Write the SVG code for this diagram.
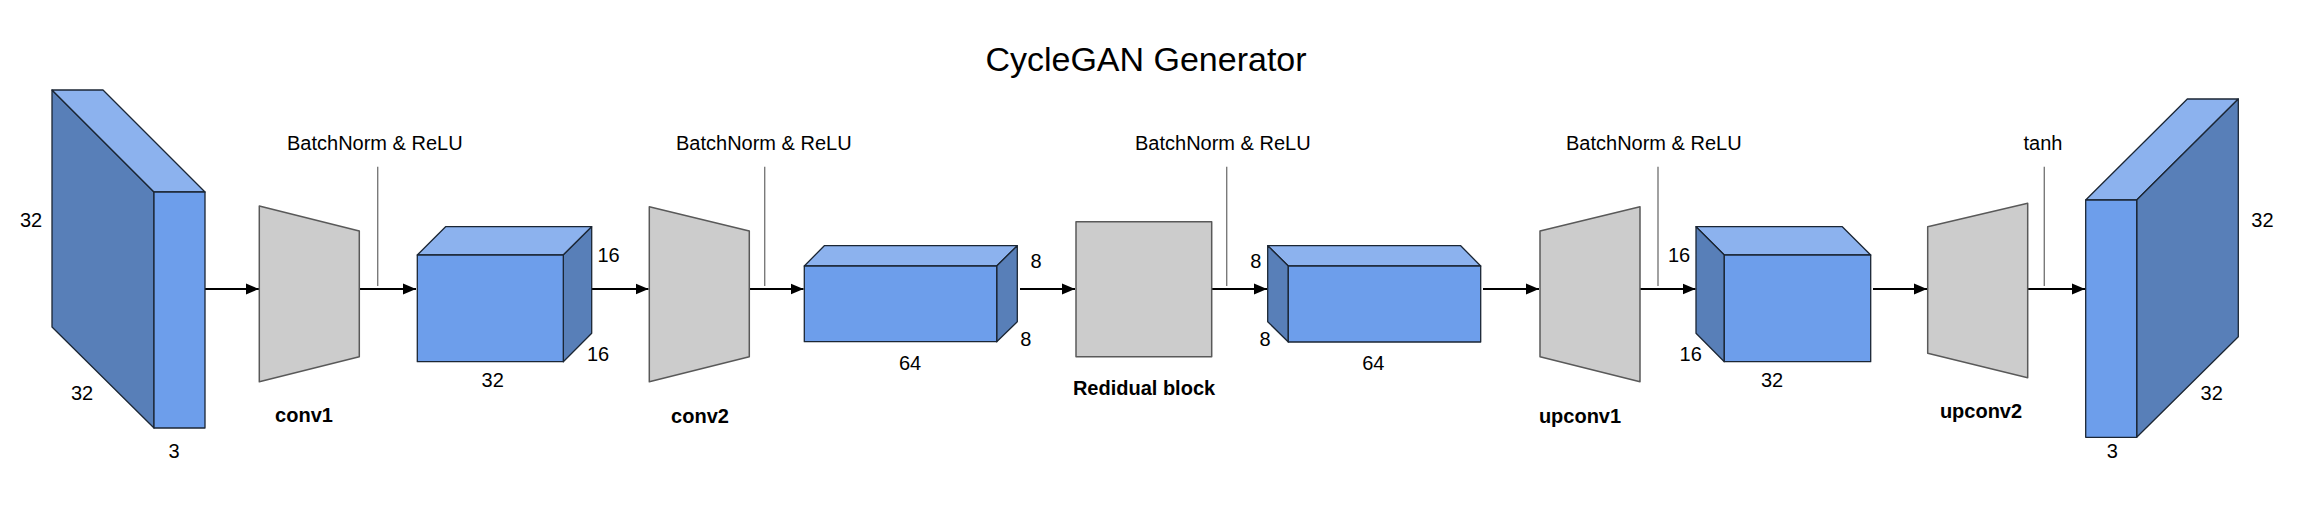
<svg xmlns="http://www.w3.org/2000/svg" width="2308" height="520" viewBox="0 0 2308 520">
<defs>
<marker id="ah" markerUnits="userSpaceOnUse" markerWidth="14" markerHeight="12" refX="13" refY="6" orient="auto">
<path d="M0,0.5 L13,6 L0,11.5 Z" fill="#000"/>
</marker>
<style>
text{font-family:"Liberation Sans",Arial,sans-serif;font-size:20px;fill:#000}
.t{font-size:34px}
.b{font-weight:bold}
.m{text-anchor:middle}
.front{fill:#6d9eeb;stroke:#1b2634;stroke-width:1.3;stroke-linejoin:round}
.top{fill:#8cb2ee;stroke:#1b2634;stroke-width:1.3;stroke-linejoin:round}
.side{fill:#587fb8;stroke:#1b2634;stroke-width:1.3;stroke-linejoin:round}
.op{fill:#cccccc;stroke:#595959;stroke-width:1.5;stroke-linejoin:round}
.arr{stroke:#000;stroke-width:2.2;fill:none;marker-end:url(#ah)}
.tick{stroke:#7a7a7a;stroke-width:1.4}
</style>
</defs>
<rect width="2308" height="520" fill="#fff"/>
<text class="t m" x="1146" y="70.7">CycleGAN Generator</text>

<g id="connectors">
<line class="arr" x1="205" y1="289" x2="259" y2="289"/>
<line class="arr" x1="359.3" y1="289" x2="416" y2="289"/>
<line class="arr" x1="592" y1="289" x2="648.5" y2="289"/>
<line class="arr" x1="749.3" y1="289" x2="803.5" y2="289"/>
<line class="arr" x1="1020" y1="289" x2="1075" y2="289"/>
<line class="arr" x1="1212" y1="289" x2="1267" y2="289"/>
<line class="arr" x1="1483" y1="289" x2="1539" y2="289"/>
<line class="arr" x1="1640" y1="289" x2="1695.5" y2="289"/>
<line class="arr" x1="1873" y1="289" x2="1927" y2="289"/>
<line class="arr" x1="2027.7" y1="289" x2="2085" y2="289"/>
<line class="tick" x1="377.7" y1="166.7" x2="377.7" y2="286"/>
<line class="tick" x1="764.7" y1="166.7" x2="764.7" y2="286"/>
<line class="tick" x1="1226.7" y1="166.7" x2="1226.7" y2="286"/>
<line class="tick" x1="1658" y1="166.7" x2="1658" y2="286"/>
<line class="tick" x1="2044.3" y1="166.7" x2="2044.3" y2="286"/>
<text x="287" y="150">BatchNorm &amp; ReLU</text>
<text x="676" y="150">BatchNorm &amp; ReLU</text>
<text x="1135" y="150">BatchNorm &amp; ReLU</text>
<text x="1566" y="150">BatchNorm &amp; ReLU</text>
<text class="m" x="2043" y="150">tanh</text>
</g>

<g id="input">
<polygon class="side" points="52,90 154,192 154,428 52,327"/>
<polygon class="top" points="52,90 103,90 205,192 154,192"/>
<rect class="front" x="154" y="192" width="51" height="236"/>
<text class="m" x="31" y="227">32</text>
<text class="m" x="82" y="400">32</text>
<text class="m" x="174" y="458">3</text>
</g>

<g id="conv1">
<polygon class="op" points="259.3,206 359.3,231 359.3,356.7 259.3,381.7"/>
<text class="b m" x="304" y="422">conv1</text>
</g>

<g id="block1">
<polygon class="top" points="417.3,255 445.6,226.7 591.7,226.7 563.3,255"/>
<polygon class="side" points="563.3,255 591.7,226.7 591.7,333.3 563.3,361.7"/>
<rect class="front" x="417.3" y="255" width="146" height="106.7"/>
<text class="m" x="608.5" y="261.7">16</text>
<text class="m" x="598" y="360.7">16</text>
<text class="m" x="492.7" y="386.7">32</text>
</g>

<g id="conv2">
<polygon class="op" points="649.3,206.7 749.3,231 749.3,356.7 649.3,381.7"/>
<text class="b m" x="700" y="422.7">conv2</text>
</g>

<g id="block2">
<polygon class="top" points="804.3,266 824.3,245.7 1017.3,245.7 996.7,266"/>
<polygon class="side" points="996.7,266 1017.3,245.7 1017.3,321.7 996.7,341.7"/>
<rect class="front" x="804.3" y="266" width="192.4" height="75.7"/>
<text class="m" x="1036" y="268.3">8</text>
<text class="m" x="1025.7" y="345.7">8</text>
<text class="m" x="910" y="370">64</text>
</g>

<g id="residual">
<rect class="op" x="1076" y="221.7" width="135.7" height="135"/>
<text class="b m" x="1144" y="395">Redidual block</text>
</g>

<g id="block3">
<polygon class="top" points="1267.7,245.7 1460.7,245.7 1480.7,266 1288.3,266"/>
<polygon class="side" points="1267.7,245.7 1288.3,266 1288.3,342 1267.7,321.7"/>
<rect class="front" x="1288.3" y="266" width="192.4" height="76"/>
<text class="m" x="1255.7" y="268.3">8</text>
<text class="m" x="1265" y="345.7">8</text>
<text class="m" x="1373.3" y="370">64</text>
</g>

<g id="upconv1">
<polygon class="op" points="1540,231 1640,206.7 1640,381.7 1540,356.7"/>
<text class="b m" x="1580" y="422.7">upconv1</text>
</g>

<g id="block4">
<polygon class="top" points="1696,226.7 1842.3,226.7 1870.7,255 1724.3,255"/>
<polygon class="side" points="1696,226.7 1724.3,255 1724.3,361.7 1696,333.3"/>
<rect class="front" x="1724.3" y="255" width="146.4" height="106.7"/>
<text class="m" x="1679" y="261.7">16</text>
<text class="m" x="1690.7" y="360.7">16</text>
<text class="m" x="1772" y="386.7">32</text>
</g>

<g id="upconv2">
<polygon class="op" points="1927.7,226.7 2027.7,203.3 2027.7,377.7 1927.7,353.3"/>
<text class="b m" x="1981" y="418.3">upconv2</text>
</g>

<g id="output">
<polygon class="top" points="2085.7,200 2187.3,99 2238.3,99 2136.7,200"/>
<polygon class="side" points="2136.7,200 2238.3,99 2238.3,336.7 2136.7,437.3"/>
<rect class="front" x="2085.7" y="200" width="51" height="237.3"/>
<text class="m" x="2262.4" y="226.7">32</text>
<text class="m" x="2211.7" y="400">32</text>
<text class="m" x="2112.3" y="457.7">3</text>
</g>
</svg>
